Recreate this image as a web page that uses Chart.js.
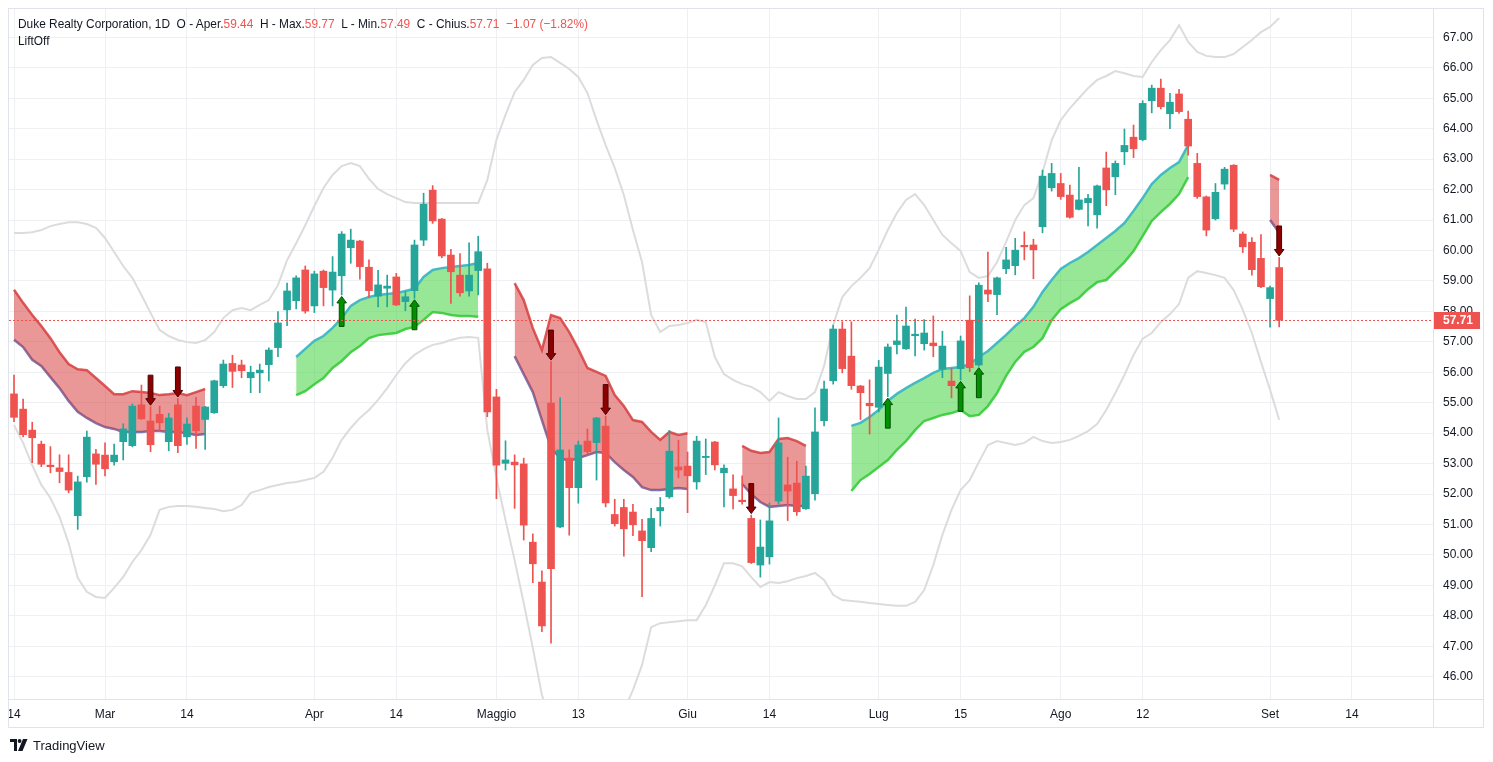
<!DOCTYPE html>
<html>
<head>
<meta charset="utf-8">
<script src="https://cdn.jsdelivr.net/npm/chart.js@4.4.0/dist/chart.umd.min.js"></script>
<style>
html,body{margin:0;padding:0;background:#fff;}
#wrap{position:relative;width:1493px;height:762px;overflow:hidden;}
#c{position:absolute;left:0;top:0;}
.hdr{position:absolute;left:18px;font-family:"Liberation Sans",Arial,sans-serif;font-size:13px;color:#131722;white-space:pre;line-height:15px;transform-origin:0 50%;}
.hdr .v{color:#ef5350;}
#h1{top:16px;}
#h2{top:33px;}
#tv{position:absolute;left:10px;top:737px;height:16px;display:flex;align-items:center;font-family:"Liberation Sans",Arial,sans-serif;font-size:13px;color:#131722;}
#tv svg{margin-right:5px;}
</style>
</head>
<body>
<div id="wrap">
<canvas id="c" width="1493" height="762"></canvas>
<div class="hdr" id="h1"></div>
<div class="hdr" id="h2">LiftOff</div>
<div id="tv"><svg width="18" height="12" viewBox="0 0 18 12"><path d="M0 0H7V12H4V3H0Z" fill="#131722"/><circle cx="9.6" cy="2" r="1.9" fill="#131722"/><path d="M13 0H17.5L12.5 12H8Z" fill="#131722"/></svg>TradingView</div>
</div>
<script>
// ---------------- DATA ----------------
const title = 'Duke Realty Corporation, 1D';
const dates = ('2022-02-14 2022-02-15 2022-02-16 2022-02-17 2022-02-18 2022-02-22 2022-02-23 2022-02-24 2022-02-25 2022-02-28 ' +
 '2022-03-01 2022-03-02 2022-03-03 2022-03-04 2022-03-07 2022-03-08 2022-03-09 2022-03-10 2022-03-11 2022-03-14 2022-03-15 2022-03-16 2022-03-17 2022-03-18 2022-03-21 2022-03-22 2022-03-23 2022-03-24 2022-03-25 2022-03-28 2022-03-29 2022-03-30 2022-03-31 ' +
 '2022-04-01 2022-04-04 2022-04-05 2022-04-06 2022-04-07 2022-04-08 2022-04-11 2022-04-12 2022-04-13 2022-04-14 2022-04-18 2022-04-19 2022-04-20 2022-04-21 2022-04-22 2022-04-25 2022-04-26 2022-04-27 2022-04-28 2022-04-29 ' +
 '2022-05-02 2022-05-03 2022-05-04 2022-05-05 2022-05-06 2022-05-09 2022-05-10 2022-05-11 2022-05-12 2022-05-13 2022-05-16 2022-05-17 2022-05-18 2022-05-19 2022-05-20 2022-05-23 2022-05-24 2022-05-25 2022-05-26 2022-05-27 2022-05-31 ' +
 '2022-06-01 2022-06-02 2022-06-03 2022-06-06 2022-06-07 2022-06-08 2022-06-09 2022-06-10 2022-06-13 2022-06-14 2022-06-15 2022-06-16 2022-06-17 2022-06-21 2022-06-22 2022-06-23 2022-06-24 2022-06-27 2022-06-28 2022-06-29 2022-06-30 ' +
 '2022-07-01 2022-07-05 2022-07-06 2022-07-07 2022-07-08 2022-07-11 2022-07-12 2022-07-13 2022-07-14 2022-07-15 2022-07-18 2022-07-19 2022-07-20 2022-07-21 2022-07-22 2022-07-25 2022-07-26 2022-07-27 2022-07-28 2022-07-29 ' +
 '2022-08-01 2022-08-02 2022-08-03 2022-08-04 2022-08-05 2022-08-08 2022-08-09 2022-08-10 2022-08-11 2022-08-12 2022-08-15 2022-08-16 2022-08-17 2022-08-18 2022-08-19 2022-08-22 2022-08-23 2022-08-24 2022-08-25 2022-08-26 2022-08-29 2022-08-30 2022-08-31 ' +
 '2022-09-01 2022-09-02').split(' ');

const opens = [55.29,54.79,54.10,53.64,52.95,52.86,52.71,51.29,52.57,53.32,
 53.28,53.06,53.72,53.59,54.93,54.40,54.62,53.72,54.93,53.88,
 54.89,54.45,54.67,55.56,56.29,56.24,55.82,55.98,56.25,56.81,
 58.05,58.35,59.36,58.18,59.32,58.70,59.17,60.09,60.31,59.45,
 58.50,58.76,59.13,58.32,58.68,60.34,61.98,61.03,59.85,59.19,
 58.67,59.34,59.40,55.19,53.01,53.05,52.99,50.42,49.11,54.99,
 50.92,53.18,52.21,53.74,53.69,54.23,51.33,51.56,51.41,50.79,
 50.24,51.45,51.91,52.89,52.92,52.40,53.20,53.71,52.70,52.17,
 51.80,51.20,49.67,49.94,51.77,52.30,52.36,51.52,52.01,54.41,
 55.72,57.42,56.53,55.55,54.98,54.85,55.96,56.91,56.77,57.20,
 56.94,56.96,56.10,55.71,56.12,57.71,56.24,58.70,58.55,59.40,
 59.50,60.17,60.18,60.78,62.06,62.20,61.82,61.35,61.57,61.17,
 62.71,62.42,63.24,63.72,63.64,64.92,65.33,64.49,65.14,64.31,
 62.86,61.76,61.04,62.18,62.80,60.54,60.27,59.74,58.42,59.44];
const highs = [55.91,55.12,54.36,53.74,53.56,53.29,53.29,52.59,54.07,53.47,
 53.68,53.64,54.31,54.96,55.58,54.87,54.89,54.65,55.14,54.50,
 55.18,54.88,55.74,56.40,56.56,56.40,56.20,56.27,56.80,57.99,
 58.93,59.17,59.49,59.32,59.36,59.80,60.62,60.70,60.33,59.69,
 59.35,59.19,59.25,58.64,60.34,61.88,62.13,61.05,60.04,59.90,
 60.25,60.47,59.58,55.44,53.75,53.29,53.18,50.69,49.48,56.35,
 55.16,53.45,53.74,54.14,54.52,54.56,51.83,51.83,51.66,51.17,
 51.53,51.89,54.09,53.77,53.38,53.90,53.81,53.73,52.96,52.63,
 52.60,51.31,51.15,51.71,54.50,53.21,53.08,52.92,54.83,55.71,
 57.55,57.66,57.66,55.57,55.75,56.39,56.93,57.88,58.14,57.75,
 57.73,57.85,57.35,56.13,57.19,58.51,58.94,59.95,59.13,60.10,
 60.40,60.61,60.37,62.64,62.86,62.53,62.15,62.73,61.84,62.15,
 63.23,62.94,63.99,64.12,64.92,65.43,65.63,65.16,65.29,64.58,
 63.19,61.79,62.20,62.73,62.82,60.61,60.42,60.52,58.83,59.77];
const lows = [54.38,53.88,53.03,52.90,52.70,52.37,52.04,50.84,52.39,52.32,
 52.60,52.95,53.12,53.55,54.45,53.39,54.05,53.42,53.36,53.63,
 53.50,53.47,54.65,55.50,55.50,55.82,55.33,55.33,55.72,56.51,
 57.53,58.08,57.94,57.96,58.18,58.18,58.54,59.58,59.06,58.46,
 58.15,58.15,58.19,58.02,58.43,60.16,60.89,59.76,58.26,58.50,
 58.50,58.54,54.54,51.85,52.79,51.53,50.49,49.09,47.48,47.10,
 50.90,50.65,51.70,53.31,52.46,51.58,50.95,49.96,50.63,48.63,
 50.11,50.95,51.86,52.53,51.39,52.16,52.64,52.79,51.58,51.51,
 51.67,49.72,49.27,49.70,51.67,51.13,51.30,51.50,51.80,54.24,
 55.61,55.98,55.44,54.45,53.97,54.70,55.20,56.60,56.75,56.54,
 56.73,56.51,55.82,55.16,55.75,56.02,56.20,58.32,57.89,59.24,
 59.20,59.69,59.07,60.58,61.95,61.68,61.06,61.33,60.81,60.73,
 61.47,61.83,62.82,63.05,63.60,64.52,64.65,64.00,64.50,63.13,
 61.71,60.48,61.00,62.01,60.62,59.93,59.19,58.78,57.48,57.49];
const closes = [54.52,53.95,53.85,52.98,52.90,52.74,52.13,52.40,53.87,52.98,
 52.83,53.28,54.14,54.89,54.47,53.62,54.34,54.50,53.59,54.30,
 54.08,54.86,55.72,56.27,56.03,56.05,56.00,56.07,56.73,57.62,
 58.67,59.10,58.01,59.23,58.78,59.29,60.54,60.34,59.47,58.68,
 58.87,58.83,58.21,58.48,60.18,61.52,60.97,59.82,59.30,58.61,
 59.19,59.96,54.70,52.95,53.12,52.96,50.98,49.71,47.67,49.55,
 53.45,52.21,53.61,53.39,54.50,51.71,51.03,50.86,50.99,50.47,
 51.20,51.56,53.41,52.79,52.60,53.74,53.24,52.96,52.85,51.95,
 51.75,49.75,50.26,51.12,53.68,52.10,51.42,52.59,54.04,55.45,
 57.42,56.12,55.56,55.33,54.90,56.17,56.83,57.03,57.52,57.25,
 57.29,56.87,56.86,55.56,57.03,56.15,58.86,58.57,59.10,59.69,
 60.01,60.12,60.02,62.44,62.53,61.77,61.09,61.66,61.71,62.12,
 61.99,62.86,63.45,63.34,64.83,65.33,64.72,64.87,64.56,63.43,
 61.77,60.67,61.91,62.67,60.70,60.12,59.37,58.81,58.78,57.71];

// Bollinger-style envelope (grey lines)
const upperBand = [60.57,60.57,60.60,60.67,60.80,60.87,60.93,60.93,60.87,60.74,
 60.41,59.95,59.49,59.10,58.54,57.95,57.39,57.19,57.06,56.99,
 56.96,57.06,57.32,57.78,58.04,58.11,58.04,58.21,58.37,58.86,
 59.68,60.24,60.83,61.46,62.05,62.48,62.77,62.87,62.77,62.35,
 62.02,61.85,61.72,61.59,61.56,61.56,61.56,61.56,61.56,61.56,
 61.56,61.56,62.31,63.63,64.45,65.20,65.60,66.09,66.32,66.35,
 66.16,65.96,65.70,65.17,64.28,63.46,62.71,61.82,60.67,59.62,
 57.88,57.32,57.52,57.55,57.62,57.72,57.65,56.50,55.94,55.75,
 55.61,55.52,55.35,55.06,55.35,55.22,55.12,55.12,55.35,56.21,
 57.55,58.47,58.83,59.10,59.42,60.02,60.67,61.23,61.66,61.85,
 61.49,61.00,60.51,60.24,59.98,59.29,59.10,59.16,59.62,60.28,
 61.00,61.49,61.72,62.57,63.62,64.28,64.67,65.00,65.33,65.60,
 65.73,65.89,65.82,65.73,65.70,66.19,66.58,66.91,67.40,66.85,
 66.52,66.39,66.35,66.35,66.45,66.68,66.91,67.17,67.34,67.63];
const lowerBand = [54.27,53.68,52.95,52.30,51.87,51.25,50.39,49.25,48.79,48.62,
 48.59,48.92,49.28,49.77,50.16,50.66,51.48,51.58,51.61,51.61,
 51.58,51.54,51.51,51.44,51.48,51.64,52.04,52.13,52.23,52.30,
 52.36,52.40,52.46,52.53,52.73,53.19,53.78,54.17,54.50,54.76,
 55.09,55.48,55.91,56.30,56.57,56.76,56.90,56.96,57.06,57.13,
 57.16,57.13,54.11,52.53,51.15,49.83,48.42,46.95,45.40,44.60,
 44.20,44.00,43.90,43.90,44.00,44.30,44.70,44.90,45.56,46.39,
 47.63,47.76,47.79,47.82,47.86,47.86,48.35,49.00,49.73,49.73,
 49.63,49.27,48.95,49.11,49.08,49.14,49.24,49.31,49.41,49.18,
 48.69,48.52,48.49,48.46,48.42,48.39,48.36,48.33,48.33,48.46,
 48.85,49.67,50.66,51.48,52.13,52.46,53.05,53.61,53.74,53.68,
 53.61,53.68,53.88,53.74,53.68,53.71,53.78,53.91,54.07,54.30,
 54.76,55.32,55.91,56.57,57.10,57.29,57.65,57.91,58.24,59.10,
 59.32,59.26,59.19,59.10,58.70,58.05,57.29,56.34,55.42,54.44];

// LiftOff cloud segments (start bar index + values)
const bearStarts = [0, 55, 80, 138];
const bearUpper = [
 [58.71,58.28,57.88,57.52,57.12,56.66,56.27,56.10,56.07,55.81,55.55,55.28,55.28,55.38,55.35,55.32,55.25,55.28,55.32,55.25,55.35,55.45],
 [58.93,58.37,57.45,56.73,57.88,57.78,57.32,56.76,56.14,56.01,55.88,55.25,54.89,54.43,54.37,54.04,53.78,54.04,53.94,54.00],
 [53.58,53.42,53.35,53.38,53.81,53.84,53.74,53.58],
 [62.48,62.32]];
const bearLower = [
 [57.07,56.83,56.41,56.21,55.84,55.48,55.06,54.70,54.50,54.33,54.20,54.14,54.04,54.04,54.04,54.07,54.07,54.04,54.04,54.00,53.94,53.97],
 [56.53,55.94,55.35,54.43,53.51,53.18,53.09,53.18,53.28,53.38,53.35,53.05,52.79,52.56,52.23,52.13,52.13,52.17,52.20,52.17],
 [52.33,52.00,51.74,51.58,51.61,51.64,51.61,51.61],
 [61.00,60.58]];
const bullStarts = [31, 92];
const bullUpper = [
 [56.50,56.77,57.03,57.19,57.46,57.78,58.18,58.37,58.47,58.54,58.57,58.60,58.67,58.74,59.13,59.36,59.42,59.46,59.49,59.52,59.59],
 [54.24,54.34,54.53,54.76,55.06,55.29,55.48,55.65,55.81,55.98,56.11,56.14,56.17,56.27,56.50,56.70,56.96,57.23,57.52,57.78,58.15,58.64,59.03,59.39,59.59,59.75,59.95,60.18,60.41,60.64,60.90,61.30,61.72,62.18,62.48,62.71,62.90,63.46]];
const bullLower = [
 [55.25,55.38,55.61,55.81,56.14,56.37,56.66,56.86,57.12,57.22,57.26,57.29,57.42,57.49,57.72,57.98,57.95,57.88,57.85,57.85,57.82],
 [52.10,52.46,52.66,52.89,53.12,53.45,53.74,54.10,54.40,54.50,54.60,54.66,54.76,54.56,54.60,54.89,55.32,55.88,56.34,56.67,56.83,57.12,57.71,58.07,58.27,58.44,58.73,58.96,59.03,59.32,59.62,59.98,60.47,60.97,61.26,61.53,61.85,62.41]];

// Signal arrows (bar indices)
const downSignals = [15, 18, 59, 65, 81, 139];
const upSignals = [36, 44, 96, 104, 106];

// Axis ticks
const xTickIndex = [0, 10, 19, 33, 42, 53, 62, 74, 83, 95, 104, 115, 124, 138, 147];
const xTickLabels = ['14','Mar','14','Apr','14','Maggio','13','Giu','14','Lug','15','Ago','12','Set','14'];
const yTickValues = [46,47,48,49,50,51,52,53,54,55,56,57,58,59,60,61,62,63,64,65,66,67];

// ---------------- BUILD ----------------
const UP = '#26a69a', DOWN = '#ef5350';
const FONT = '"Liberation Sans", Arial, sans-serif';
const N = closes.length;
const last = N - 1;

function toXY(arr){ return arr.map((v,i)=>({x:i, y:v})); }
function fromSegments(starts, segs){
  const out = new Array(N).fill(null);
  starts.forEach((s,k)=>segs[k].forEach((v,j)=>{ out[s+j] = v; }));
  return toXY(out);
}
const candleColor = ctx => (closes[ctx.dataIndex] >= opens[ctx.dataIndex] ? UP : DOWN);

// header
const chg = closes[last] - closes[last-1];
const pct = chg / closes[last-1] * 100;
const minus = v => (v < 0 ? '\u2212' : '+') + Math.abs(v).toFixed(2);
document.getElementById('h1').innerHTML =
  title + '  O - Aper.<span class="v">' + opens[last].toFixed(2) + '</span>  H - Max.<span class="v">' + highs[last].toFixed(2) +
  '</span>  L - Min.<span class="v">' + lows[last].toFixed(2) + '</span>  C - Chius.<span class="v">' + closes[last].toFixed(2) +
  '</span>  <span class="v">' + minus(chg) + ' (' + minus(pct) + '%)</span>';
(function fit(){
  const h1 = document.getElementById('h1');
  const w = h1.getBoundingClientRect().width;
  const s = 570 / w;
  h1.style.transform = 'scaleX(' + s + ')';
  document.getElementById('h2').style.transform = 'scaleX(' + s + ')';
})();

function drawArrow(ctx, x, tip, dir, fill, stroke){
  // dir = 1 : arrow sits above tip and points down ; dir = -1 : below tip, points up
  const L = 30, hw = 2.4, HW = 4.8, HH = 6.5;
  const Y = k => tip - dir * k;
  ctx.beginPath();
  ctx.moveTo(x - hw, Y(L));
  ctx.lineTo(x + hw, Y(L));
  ctx.lineTo(x + hw, Y(HH));
  ctx.lineTo(x + HW, Y(HH));
  ctx.lineTo(x, Y(0));
  ctx.lineTo(x - HW, Y(HH));
  ctx.lineTo(x - hw, Y(HH));
  ctx.closePath();
  ctx.fillStyle = fill;
  ctx.fill();
  ctx.lineWidth = 1;
  ctx.strokeStyle = stroke;
  ctx.stroke();
}

const overlay = {
  id: 'overlay',
  afterDatasetsDraw(chart){
    const {ctx, scales:{x, y}} = chart;
    ctx.save();
    downSignals.forEach(i => drawArrow(ctx, x.getPixelForValue(i), y.getPixelForValue(highs[i]) - 1.5, 1, '#8b0000', '#4d0000'));
    upSignals.forEach(i => drawArrow(ctx, x.getPixelForValue(i), y.getPixelForValue(lows[i]) + 1.5, -1, '#009000', '#005200'));
    ctx.restore();
  },
  afterDraw(chart){
    const {ctx, scales:{x, y}, chartArea:a} = chart;
    ctx.save();
    const py = Math.round(y.getPixelForValue(closes[last])) + 0.5;
    ctx.strokeStyle = DOWN;
    ctx.lineWidth = 1;
    ctx.setLineDash([2, 2]);
    ctx.beginPath(); ctx.moveTo(a.left, py); ctx.lineTo(a.right, py); ctx.stroke();
    ctx.setLineDash([]);
    // price label
    ctx.fillStyle = DOWN;
    ctx.fillRect(a.right, py - 8.5, 47, 17);
    ctx.fillStyle = '#ffffff';
    ctx.font = 'bold 12px ' + FONT;
    ctx.textBaseline = 'middle';
    ctx.textAlign = 'left';
    ctx.fillText(closes[last].toFixed(2), a.right + 10, py + 0.5);
    // frame
    ctx.strokeStyle = '#e0e3eb';
    ctx.lineWidth = 1;
    ctx.strokeRect(8.5, 8.5, 1475, 719);
    ctx.beginPath();
    ctx.moveTo(a.right + 0.5, 8.5); ctx.lineTo(a.right + 0.5, 727.5);
    ctx.moveTo(8.5, a.bottom + 0.5); ctx.lineTo(1483.5, a.bottom + 0.5);
    ctx.stroke();
    ctx.restore();
  }
};

const lineBase = {type:'line', pointRadius:0, tension:0, spanGaps:false, borderWidth:2.5};

new Chart(document.getElementById('c'), {
  type: 'bar',
  data: {
    datasets: [
      {label:'body', data: opens.map((o,i)=>({x:i, y:[o, closes[i]]})), backgroundColor: candleColor,
       barThickness: 7, grouped:false, minBarLength:1, borderWidth:0, order:0},
      {label:'wick', data: opens.map((o,i)=>({x:i, y:[lows[i], highs[i]]})), backgroundColor: candleColor,
       barThickness: 1, grouped:false, borderWidth:0, order:1},
      Object.assign({}, lineBase, {label:'bearUpper', data: fromSegments(bearStarts, bearUpper), borderColor:'rgba(214,62,62,0.85)',
       backgroundColor:'rgba(214,48,48,0.5)', fill:'+1', order:3}),
      Object.assign({}, lineBase, {label:'bearLower', data: fromSegments(bearStarts, bearLower), borderColor:'rgba(112,104,168,0.9)',
       fill:false, order:3}),
      Object.assign({}, lineBase, {label:'bullUpper', data: fromSegments(bullStarts, bullUpper), borderColor:'rgba(62,182,196,0.95)',
       backgroundColor:'rgba(48,208,48,0.5)', fill:'+1', order:3}),
      Object.assign({}, lineBase, {label:'bullLower', data: fromSegments(bullStarts, bullLower), borderColor:'rgba(70,206,70,0.95)',
       fill:false, order:3}),
      Object.assign({}, lineBase, {label:'upperBand', data: toXY(upperBand), borderColor:'#dcdcdc', borderWidth:2, fill:false, order:5}),
      Object.assign({}, lineBase, {label:'lowerBand', data: toXY(lowerBand), borderColor:'#dcdcdc', borderWidth:2, fill:false, order:5})
    ]
  },
  options: {
    responsive:false,
    animation:false,
    events:[],
    layout:{padding:{left:9, top:9, right:10, bottom:34}},
    plugins:{legend:{display:false}, tooltip:{enabled:false}, title:{display:false}},
    scales:{
      x:{type:'linear', min:-0.55, max:155.9, offset:false,
         afterBuildTicks: s => { s.ticks = xTickIndex.map(v=>({value:v})); },
         afterFit: s => { s.height = 29; },
         ticks:{callback:(v,i)=>xTickLabels[i], autoSkip:false, maxRotation:0, minRotation:0, padding:0,
                font:{family:FONT, size:12}, color:'#131722'},
         grid:{color:'#eef0f3', drawTicks:true, tickLength:8, tickColor:'rgba(0,0,0,0)', offset:false},
         border:{display:false}},
      y:{position:'right', min:45.27, max:67.93,
         afterBuildTicks: s => { s.ticks = yTickValues.map(v=>({value:v})); },
         afterFit: s => { s.width = 50; },
         ticks:{callback:v=>Number(v).toFixed(2), padding:0, font:{family:FONT, size:12}, color:'#131722'},
         grid:{color:'#eef0f3', drawTicks:true, tickLength:10, tickColor:'rgba(0,0,0,0)'},
         border:{display:false}}
    }
  },
  plugins:[overlay]
});
</script>
</body>
</html>
